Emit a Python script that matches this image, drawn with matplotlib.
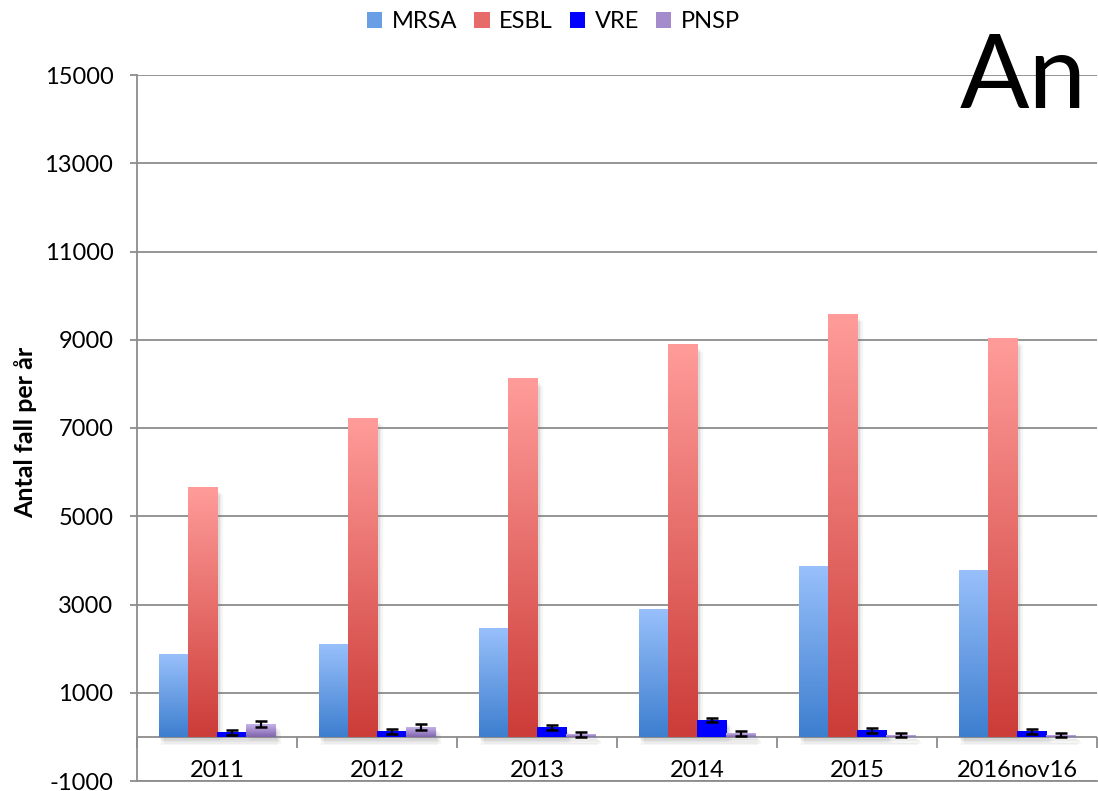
import numpy as np
import matplotlib
matplotlib.use("Agg")
import matplotlib.pyplot as plt
from matplotlib.colors import LinearSegmentedColormap, to_rgb
from matplotlib.patches import Patch
import matplotlib.patheffects as pe

plt.rcParams["font.family"] = ["Lato", "DejaVu Sans"]
plt.rcParams["axes.unicode_minus"] = False

years = ["2011", "2012", "2013", "2014", "2015", "2016nov16"]
series = ["MRSA", "ESBL", "VRE", "PNSP"]

mrsa = [1880, 2085, 2450, 2900, 3870, 3780]
esbl = [5655, 7215, 8115, 8885, 9580, 9035]
vre = [105, 128, 216, 385, 136, 128]
pnsp = [294, 226, 59, 68, 45, 45]

vre_err = [55, 55, 55, 50, 55, 55]
pnsp_err = [60, 60, 55, 55, 50, 50]

# gradient colours (top, bottom) per series
grad = {
    "MRSA": ("#98c0fb", "#3d7ecf"),
    "ESBL": ("#ff9c9a", "#cc3c38"),
    "VRE": ("#0000ff", "#0000ff"),
    "PNSP": ("#c6b3ea", "#7f62ad"),
}

values = {"MRSA": mrsa, "ESBL": esbl, "VRE": vre, "PNSP": pnsp}
errors = {"VRE": vre_err, "PNSP": pnsp_err}

fig = plt.figure(figsize=(10.98, 7.91), dpi=100)
ax = fig.add_axes([137 / 1098, 10 / 791, 960 / 1098, 706 / 791])

grid_col = "#8c8c8c"
x = np.arange(len(years))
w = 0.1825

# soft shadow: a few offset copies with low alpha
shadow = [pe.SimplePatchShadow(offset=(dx, -dy), shadow_rgbFace="#7a7a7a", alpha=0.07)
          for dx, dy in [(1, 2), (2, 3), (3, 4), (4, 5), (2, 6)]]

for i, name in enumerate(series):
    pos = x + (i - 1.5) * w
    vals = values[name]
    top, bot = grad[name]
    bars = ax.bar(pos, vals, width=w, color=top, zorder=3,
                  path_effects=shadow + [pe.Normal()])
    cmap = LinearSegmentedColormap.from_list(name, [bot, top])
    g = np.linspace(0, 1, 256).reshape(-1, 1)
    for b in bars:
        x0, y0 = b.get_x(), b.get_y()
        ax.imshow(g, cmap=cmap, origin="lower", aspect="auto", zorder=4,
                  extent=(x0, x0 + b.get_width(), y0, y0 + b.get_height()))
    if name in errors:
        ax.errorbar(pos, vals, yerr=errors[name], fmt="none", ecolor="black",
                    elinewidth=1.6, capsize=4.5, capthick=1.8, zorder=6)

ax.set_xlim(-0.5, len(years) - 0.5)
ax.set_ylim(-1000, 15000)
ax.set_yticks(range(-1000, 15001, 2000))
ax.yaxis.grid(True, color=grid_col, linewidth=1.3, zorder=0)
ax.set_axisbelow(True)
ax.axhline(0, color=grid_col, linewidth=1.3, zorder=2)

# category divider ticks hanging under the zero line
bounds = np.arange(len(years) + 1) - 0.5
ax.plot(bounds, np.zeros_like(bounds), linestyle="none", marker=3, markersize=8,
        markeredgewidth=1.3, color=grid_col, zorder=2, clip_on=False)

for i, yr in enumerate(years):
    ax.text(i, -760, yr, ha="center", va="center", fontsize=17)

ax.set_xticks([])
for s in ["top", "right"]:
    ax.spines[s].set_visible(False)
ax.spines["left"].set_color(grid_col)
ax.spines["left"].set_linewidth(1.3)
ax.spines["bottom"].set_color(grid_col)
ax.spines["bottom"].set_linewidth(1.3)
ax.tick_params(axis="y", length=5, width=1.3, color=grid_col, pad=12, labelsize=17)

ax.set_ylabel("Antal fall per år", fontsize=18, fontweight="bold")
ax.yaxis.set_label_coords(-0.104, 0.494)


def mid(n):
    return tuple((np.array(to_rgb(grad[n][0])) + np.array(to_rgb(grad[n][1]))) / 2)


handles = [Patch(facecolor=mid(n), label=n) for n in series]
fig.legend(handles=handles, loc="upper center", bbox_to_anchor=(0.504, 1.013), ncol=4,
           frameon=False, fontsize=17, handlelength=0.65, handleheight=0.65,
           handletextpad=0.4, columnspacing=0.72)

fig.text(1087 / 1098, (791 - 108) / 791, "An", ha="right", va="baseline", fontsize=74)

fig.savefig("out.png", dpi=100)
